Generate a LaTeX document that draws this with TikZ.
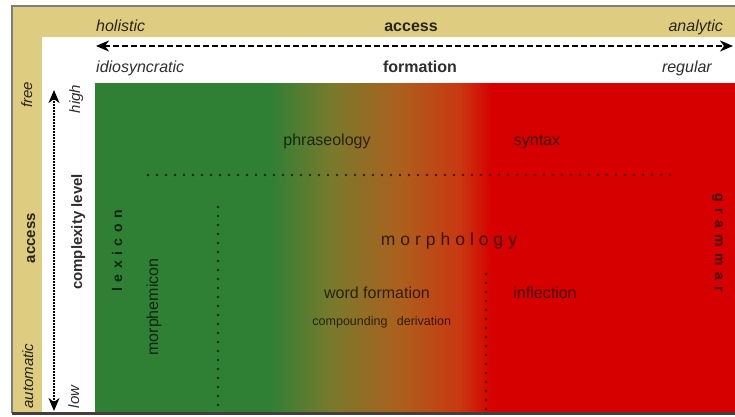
\documentclass[tikz,border=0pt]{standalone}
\usepackage{fontspec}
\setmainfont{Liberation Sans}
\usepackage{tikz}
\usetikzlibrary{arrows.meta}

\definecolor{bandtan}{RGB}{222,204,128}
\definecolor{framegray}{RGB}{125,125,125}
\definecolor{framedark}{RGB}{70,62,62}
\definecolor{lexgreen}{RGB}{47,127,53}
\definecolor{olivemix}{RGB}{120,122,44}
\definecolor{brownmix}{RGB}{172,96,30}
\definecolor{rustmix}{RGB}{200,56,16}
\definecolor{gramred}{RGB}{214,0,0}

% lexicon (green) to grammar (red), left to right
\pgfdeclarehorizontalshading{lexgram}{100bp}{color(0bp)=(lexgreen); color(38.7bp)=(lexgreen);
  color(43.4bp)=(olivemix); color(48.8bp)=(brownmix); color(53.5bp)=(rustmix);
  color(56bp)=(gramred); color(100bp)=(gramred)}

% letter-spaced words
\makeatletter
\newdimen\spread@gap
\newcommand\spreadword[2]{\spread@gap=#1\relax\spread@loop#2\relax\unkern}
\def\spread@loop#1{\ifx\relax#1\else#1\kern\spread@gap\expandafter\spread@loop\fi}
\makeatother

\tikzstyle{toplab} = [inner sep=0pt, font=\fontsize{16}{19}\selectfont\itshape, text opacity=0.82]
\tikzstyle{topkey} = [toplab, font=\fontsize{16}{19}\selectfont\bfseries]
\tikzstyle{sidelab} = [inner sep=0pt, font=\fontsize{15}{18}\selectfont\itshape, text opacity=0.82, rotate=90]
\tikzstyle{sidekey} = [sidelab, font=\fontsize{15}{18}\selectfont\bfseries]
\tikzstyle{field} = [inner sep=0pt, font=\fontsize{16}{19}\selectfont, text opacity=0.7]
\tikzstyle{fieldsmall} = [field, font=\fontsize{12.5}{15}\selectfont]
\tikzstyle{fieldkey} = [field, font=\fontsize{14}{17}\selectfont\bfseries]
\tikzstyle{dotline} = [line width=2.6pt, line cap=round, dash pattern=on 0pt off 9pt, opacity=0.65]
\tikzstyle{axisdash} = [line width=1.8pt, dash pattern=on 6pt off 3pt,
    {Stealth[length=13pt,width=11pt,inset=4pt]}-{Stealth[length=13pt,width=11pt,inset=4pt]}]
\tikzstyle{axisdots} = [line width=1.6pt, dash pattern=on 1.5pt off 1.5pt,
    {Stealth[length=13pt,width=11pt,inset=4pt]}-{Stealth[length=13pt,width=11pt,inset=4pt]}]

\begin{document}
\begin{tikzpicture}[x=1pt, y=-1pt]
  \useasboundingbox (0,0) rectangle (735,416);
  % frame, bands and the coloured field
  \fill[bandtan] (12,6) rectangle (745,413);
  \fill[white] (42,37) rectangle (745,413);
  \shade[shading=lexgram] (95,83) rectangle (735,413);
  \draw[framegray, line width=2pt] (745,6) -- (12,6) -- (12,413);
  \draw[framedark, line width=3pt] (12,413) -- (745,413);

  % access / formation axis
  \node[toplab, anchor=base west] (holistic) at (96,31) {holistic};
  \node[topkey, anchor=base] (access-top) at (411,31) {access};
  \node[toplab, anchor=base east] (analytic) at (723,31) {analytic};
  \node[toplab, anchor=base west] (idiosyncratic) at (96,72) {idiosyncratic};
  \node[topkey, anchor=base] (formation) at (420,72) {formation};
  \node[toplab, anchor=base east] (regular) at (712,72) {regular};
  \coordinate (top-l) at (96,46);
  \coordinate (top-r) at (733,46);
  \draw[axisdash] (top-l) -- (top-r);

  % access / complexity axis
  \node[sidelab, anchor=base] (free) at (32,95) {free};
  \node[sidekey, anchor=base] (access-side) at (35,238) {access};
  \node[sidelab, anchor=base] (automatic) at (33,376) {automatic};
  \node[sidelab, anchor=base] (high) at (80,99) {high};
  \node[sidekey, anchor=base] (complexity) at (82,232) {complexity level};
  \node[sidelab, anchor=base] (low) at (79,397) {low};
  \coordinate (side-t) at (54,90);
  \coordinate (side-b) at (54,411);
  \draw[axisdots] (side-b) -- (side-t);

  % upper level
  \node[field, anchor=base] (phraseology) at (327,145) {phraseology};
  \node[field, anchor=base] (syntax) at (537,145) {syntax};
  \coordinate (split-l) at (148,175);
  \coordinate (split-r) at (673,175);
  \draw[dotline] (split-l) -- (split-r);

  % lower level
  \node[fieldkey, anchor=base, rotate=90] (lexicon) at (122,251) {\spreadword{5.5pt}{lexicon}};
  \node[field, anchor=base, rotate=90] (morphemicon) at (158,307) {morphemicon};
  \node[field, anchor=base, font=\fontsize{17.5}{20}\selectfont] (morphology) at (449,245) {\spreadword{5pt}{morphology}};
  \node[field, anchor=base] (wordformation) at (377,298) {word formation};
  \node[fieldsmall, anchor=base] (compounding) at (350,325) {compounding};
  \node[fieldsmall, anchor=base] (derivation) at (424,325) {derivation};
  \node[field, anchor=base] (inflection) at (545,298) {inflection};
  \node[fieldkey, anchor=base, rotate=-90] (grammar) at (715,243) {\spreadword{6.5pt}{grammar}};
  \coordinate (lex-t) at (218,207);
  \coordinate (lex-b) at (218,411);
  \coordinate (infl-t) at (486,274);
  \coordinate (infl-b) at (486,411);
  \draw[dotline] (lex-t) -- (lex-b);
  \draw[dotline] (infl-t) -- (infl-b);
\end{tikzpicture}
\end{document}
